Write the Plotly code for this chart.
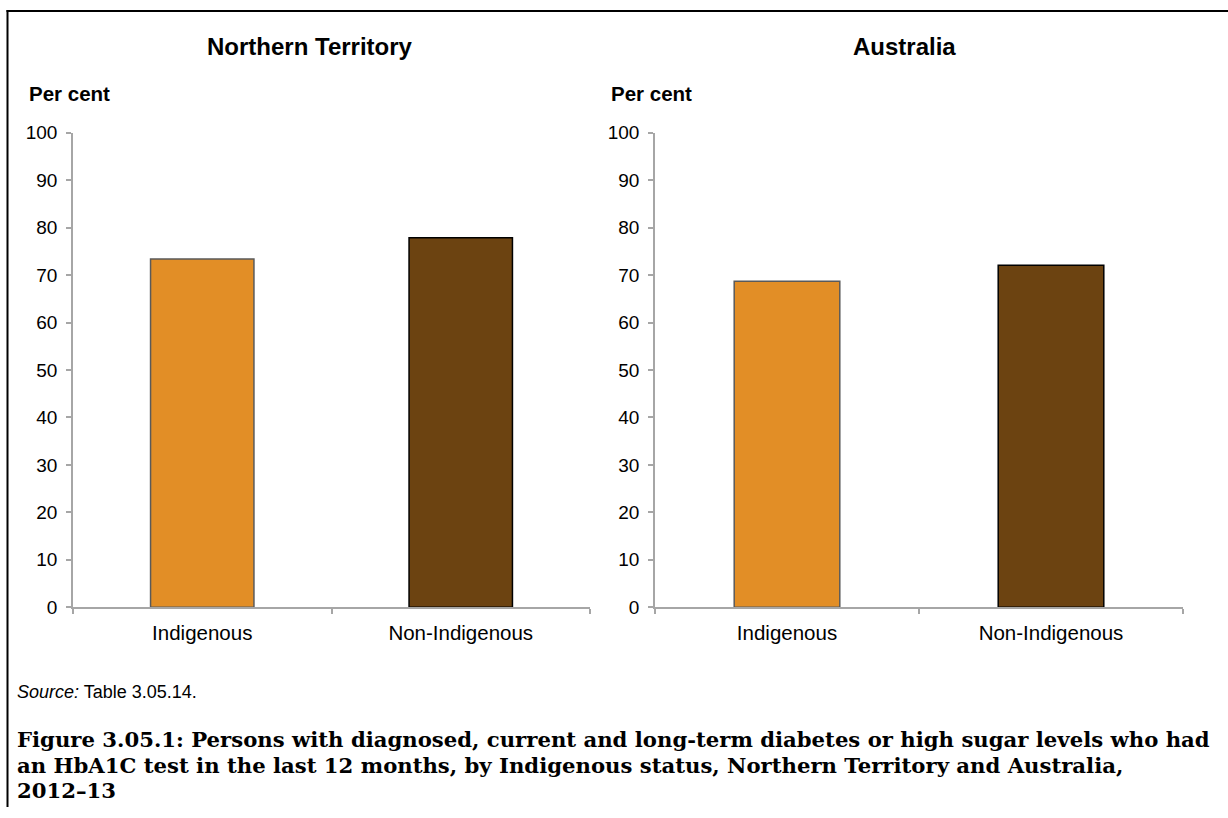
import plotly.graph_objects as go

categories = ["Indigenous", "Non-Indigenous"]
nt_values = [73.4, 77.9]
aus_values = [68.7, 72.1]
panel_titles = ["Northern Territory", "Australia"]
y_ticks = [0, 10, 20, 30, 40, 50, 60, 70, 80, 90, 100]

W, H = 1228, 818
bar_colors = ["#E28E26", "#6C4311"]
bar_lines = ["#5A5A5A", "#000000"]
sans = "Liberation Sans, Arial, sans-serif"
serif = "DejaVu Serif, serif"

fig = go.Figure()
fig.add_trace(go.Bar(x=categories, y=nt_values, xaxis="x", yaxis="y",
                     marker=dict(color=bar_colors, line=dict(color=bar_lines, width=1.5)),
                     width=0.4, showlegend=False))
fig.add_trace(go.Bar(x=categories, y=aus_values, xaxis="x2", yaxis="y2",
                     marker=dict(color=bar_colors, line=dict(color=bar_lines, width=1.5)),
                     width=0.4, showlegend=False))

def px_x(p):
    return p / W

def px_y(p):
    return 1 - p / H

xdom1 = [px_x(73), px_x(590)]
xdom2 = [px_x(655), px_x(1183)]
ydom = [px_y(613), px_y(126)]

axis_col = "#A6A6A6"
xcommon = dict(showline=True, linecolor=axis_col, linewidth=1.5, ticks="outside",
               tickson="boundaries", ticklen=5, tickcolor=axis_col, tickwidth=1.5,
               showgrid=False, zeroline=False, ticklabelstandoff=6,
               tickfont=dict(family=sans, size=20.5, color="#000000"))
ycommon = dict(range=[0, 100], tickvals=y_ticks, showline=True, linecolor=axis_col,
               linewidth=1.5, ticks="outside", ticklen=5, tickcolor=axis_col, tickwidth=1.5,
               showgrid=False, zeroline=False, ticklabelstandoff=5,
               tickfont=dict(family=sans, size=19, color="#000000"), domain=ydom)

fig.update_layout(
    width=W, height=H, margin=dict(l=0, r=0, t=0, b=0),
    paper_bgcolor="white", plot_bgcolor="white",
    xaxis=dict(domain=xdom1, anchor="y", **xcommon),
    yaxis=dict(anchor="x", **ycommon),
    xaxis2=dict(domain=xdom2, anchor="y2", **xcommon),
    yaxis2=dict(anchor="x2", **ycommon),
)

annotations = []
for title, cx, px0 in [(panel_titles[0], px_x(310), px_x(27)), (panel_titles[1], px_x(904), px_x(609))]:
    annotations.append(dict(text="<b>" + title + "</b>", x=cx, y=px_y(37), xref="paper", yref="paper",
                            xanchor="center", yanchor="middle", showarrow=False,
                            font=dict(family=sans, size=24, color="#000000")))
    annotations.append(dict(text="<b>Per cent</b>", x=px0, y=px_y(86), xref="paper", yref="paper",
                            xanchor="left", yanchor="middle", showarrow=False,
                            font=dict(family=sans, size=20.5, color="#000000")))
annotations.append(dict(text="<i>Source:</i> Table 3.05.14.", x=px_x(15), y=px_y(700),
                        xref="paper", yref="paper", xanchor="left", yanchor="middle",
                        showarrow=False, font=dict(family=sans, size=18, color="#000000")))
caption_lines = [
    "Figure 3.05.1: Persons with diagnosed, current and long-term diabetes or high sugar levels who had",
    "an HbA1C test in the last 12 months, by Indigenous status, Northern Territory and Australia,",
    "2012\u201313",
]
for i, line in enumerate(caption_lines):
    annotations.append(dict(text="<b>" + line + "</b>", x=px_x(15), y=px_y(749 + 26 * i),
                            xref="paper", yref="paper", xanchor="left", yanchor="middle",
                            showarrow=False, font=dict(family=serif, size=21.2, color="#000000")))
fig.update_layout(annotations=annotations)

fig.add_shape(type="line", xref="paper", yref="paper", x0=px_x(7.5), x1=px_x(7.5),
              y0=0, y1=1, line=dict(color="#000000", width=2))
fig.add_shape(type="line", xref="paper", yref="paper", x0=px_x(6.5), x1=1,
              y0=px_y(1), y1=px_y(1), line=dict(color="#000000", width=2))

fig.write_html("out.html", config={"displayModeBar": False},
               post_script="document.body.style.margin='0';document.body.style.overflow='hidden';")
